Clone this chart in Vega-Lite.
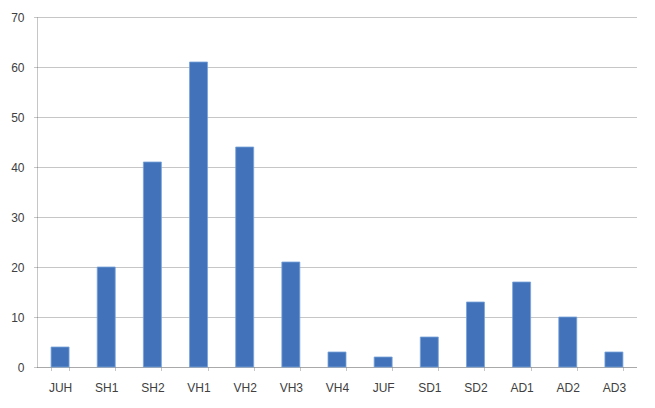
{
  "$schema": "https://vega.github.io/schema/vega-lite/v6.json",
  "width": 600,
  "height": 350,
  "autosize": {"type": "none"},
  "padding": {"left": 37, "top": 17, "right": 18, "bottom": 41},
  "background": "white",
  "config": {
    "view": {"stroke": null},
    "font": "Liberation Sans",
    "axis": {
      "labelFont": "Liberation Sans",
      "labelFontSize": 12,
      "labelColor": "#404040",
      "domainColor": "#8c8c8c",
      "domainDash": [1, 1],
      "tickColor": "#8c8c8c",
      "tickDash": [1, 1],
      "gridColor": "#8c8c8c",
      "gridDash": [1, 1],
      "title": null
    }
  },
  "data": {
    "values": [
      {"cat": "JUH", "v": 4},
      {"cat": "SH1", "v": 20},
      {"cat": "SH2", "v": 41},
      {"cat": "VH1", "v": 61},
      {"cat": "VH2", "v": 44},
      {"cat": "VH3", "v": 21},
      {"cat": "VH4", "v": 3},
      {"cat": "JUF", "v": 2},
      {"cat": "SD1", "v": 6},
      {"cat": "SD2", "v": 13},
      {"cat": "AD1", "v": 17},
      {"cat": "AD2", "v": 10},
      {"cat": "AD3", "v": 3}
    ]
  },
  "mark": {"type": "bar", "color": "#4273BA", "stroke": "#7aa3db", "strokeWidth": 0.8},
  "encoding": {
    "x": {
      "field": "cat",
      "type": "nominal",
      "sort": null,
      "scale": {"paddingInner": 0.61, "paddingOuter": 0.305},
      "axis": {
        "labelAngle": 0,
        "labelPadding": 11,
        "tickBand": "extent",
        "tickSize": 4,
        "grid": false
      }
    },
    "y": {
      "field": "v",
      "type": "quantitative",
      "scale": {"domain": [0, 70], "nice": false},
      "axis": {
        "values": [0, 10, 20, 30, 40, 50, 60, 70],
        "ticks": true,
        "tickSize": 4,
        "labelPadding": 9,
        "grid": true
      }
    }
  }
}
